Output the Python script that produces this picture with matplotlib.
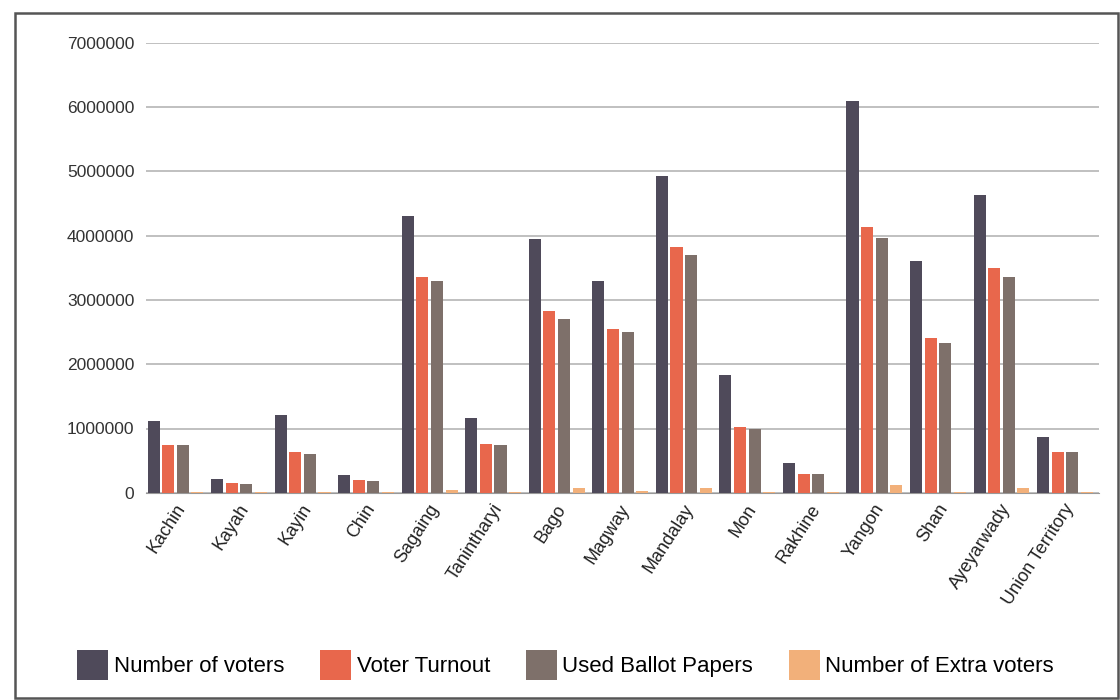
import matplotlib.pyplot as plt
import numpy as np
from matplotlib.patches import Rectangle

plt.rcParams['font.family'] = ['Liberation Sans', 'DejaVu Sans']

regions = ["Kachin", "Kayah", "Kayin", "Chin", "Sagaing", "Tanintharyi", "Bago",
           "Magway", "Mandalay", "Mon", "Rakhine", "Yangon", "Shan", "Ayeyarwady",
           "Union Territory"]
voters = [1120000, 220000, 1210000, 270000, 4300000, 1170000, 3950000,
          3290000, 4930000, 1830000, 460000, 6100000, 3600000, 4630000, 870000]
turnout = [750000, 150000, 640000, 200000, 3360000, 760000, 2830000,
           2540000, 3830000, 1030000, 300000, 4140000, 2400000, 3500000, 640000]
used_ballots = [740000, 140000, 610000, 190000, 3290000, 750000, 2710000,
                2500000, 3700000, 1000000, 300000, 3960000, 2330000, 3360000, 640000]
extra_voters = [10000, 5000, 10000, 5000, 40000, 10000, 80000,
                30000, 80000, 20000, 10000, 120000, 20000, 70000, 10000]
yticks = [0, 1000000, 2000000, 3000000, 4000000, 5000000, 6000000, 7000000]

series = [
    ("Number of voters", voters, "#4f4a5a"),
    ("Voter Turnout", turnout, "#e8674c"),
    ("Used Ballot Papers", used_ballots, "#7e706a"),
    ("Number of Extra voters", extra_voters, "#f2b07a"),
]

fig = plt.figure(figsize=(11.2, 7), dpi=100)
ax = fig.add_axes([0.13, 0.296, 0.851, 0.643])

# outer frame of the scanned chart
fig.patches.append(Rectangle((0.013, 0.003), 0.985, 0.978, transform=fig.transFigure,
                             fill=False, edgecolor="#555555", linewidth=1.8))

x = np.arange(len(regions))
width = 0.19
step = 0.23
for i, (name, vals, col) in enumerate(series):
    ax.bar(x - 1.5 * step + i * step + 0.02, vals, width=width, color=col, label=name, zorder=3)

ax.set_ylim(0, 7000000)
ax.set_xlim(-0.45, len(regions) - 0.45)
ax.set_yticks(yticks)
ax.set_yticklabels([str(v) for v in yticks], fontsize=12.5, color="#333333")
ax.set_xticks(x)
ax.set_xticklabels(regions, rotation=57, ha="right", rotation_mode="anchor",
                   fontsize=13, color="#222222")
ax.tick_params(axis="y", length=0, pad=8)
ax.tick_params(axis="x", length=0, pad=6)
ax.yaxis.grid(True, color="#b5b5b5", linewidth=1.2, zorder=0)
for s in ["top", "right", "left"]:
    ax.spines[s].set_visible(False)
ax.spines["bottom"].set_color("#999999")

fig.legend(loc="center", bbox_to_anchor=(0.505, 0.05), ncol=4, frameon=False,
           fontsize=16, handlelength=1.4, handleheight=1.7, handletextpad=0.25,
           columnspacing=1.6)

fig.savefig("out.png", dpi=100, facecolor="white")
